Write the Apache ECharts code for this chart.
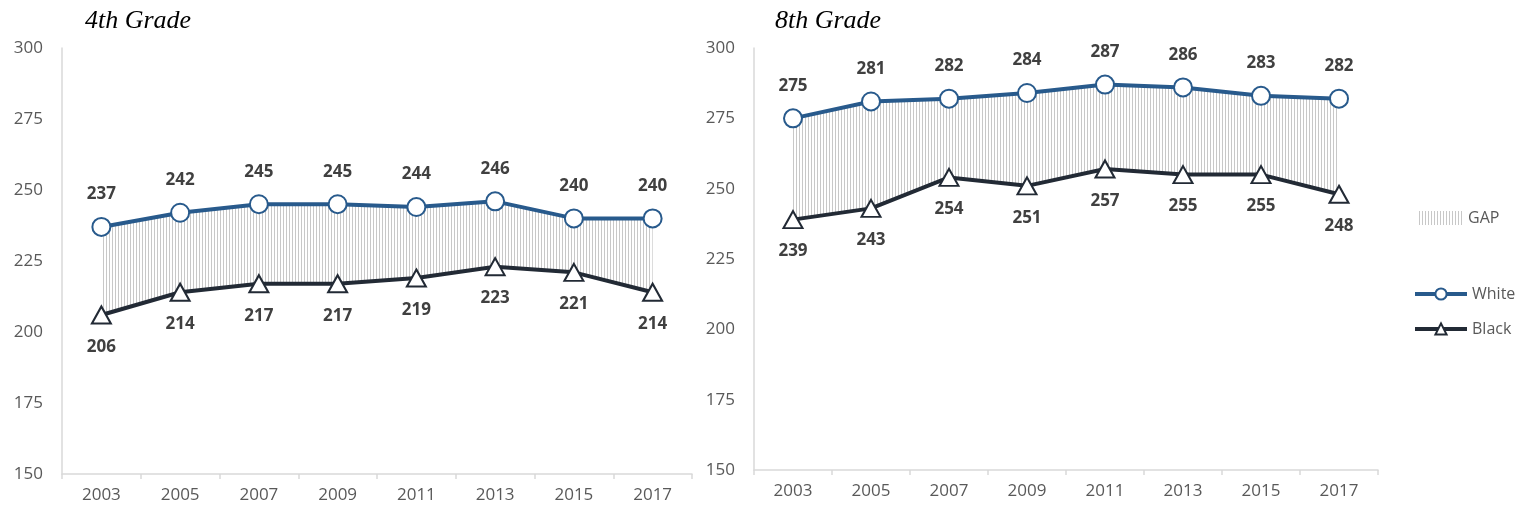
<!DOCTYPE html>
<html>
<head>
<meta charset="utf-8">
<script src="https://cdn.jsdelivr.net/npm/echarts@6/dist/echarts.min.js"></script>
<style>
  html, body { margin: 0; padding: 0; background: #fff; }
  #chart { width: 1532px; height: 512px; }
</style>
</head>
<body>
<div id="chart"></div>
<script>
// data
const years = ['2003', '2005', '2007', '2009', '2011', '2013', '2015', '2017'];
const g4White = [237, 242, 245, 245, 244, 246, 240, 240];
const g4Black = [206, 214, 217, 217, 219, 223, 221, 214];
const g8White = [275, 281, 282, 284, 287, 286, 283, 282];
const g8Black = [239, 243, 254, 251, 257, 255, 255, 248];
const yMin = 150, yMax = 300, yStep = 25;

const WHITE_COLOR = '#285a8c';
const BLACK_COLOR = '#222a35';
const AXIS_COLOR = '#d9d9d9';
const TEXT_COLOR = '#595959';

// vertical hatch pattern for the gap area
const hatchCanvas = document.createElement('canvas');
hatchCanvas.width = 3;
hatchCanvas.height = 4;
const hctx = hatchCanvas.getContext('2d');
hctx.fillStyle = '#c8c8c8';
hctx.fillRect(1, 0, 1, 4);
const hatch = { image: hatchCanvas, repeat: 'repeat' };

const myChart = echarts.init(document.getElementById('chart'));

function xAxisFor(gridIndex) {
  return {
    type: 'category',
    gridIndex: gridIndex,
    data: years,
    boundaryGap: true,
    axisLine: { lineStyle: { color: AXIS_COLOR, width: 1.5 } },
    axisTick: { show: true, length: 5, lineStyle: { color: AXIS_COLOR, width: 1.5 } },
    axisLabel: { color: TEXT_COLOR, fontFamily: 'Open Sans', fontSize: 17, margin: 13 },
    splitLine: { show: false }
  };
}

function yAxisFor(gridIndex) {
  return {
    type: 'value',
    gridIndex: gridIndex,
    min: yMin,
    max: yMax,
    interval: yStep,
    axisLine: { show: true, lineStyle: { color: AXIS_COLOR, width: 1.5 } },
    axisTick: { show: false },
    axisLabel: { color: TEXT_COLOR, fontFamily: 'Open Sans', fontSize: 17, margin: 19 },
    splitLine: { show: false }
  };
}

const labelStyle = {
  show: true,
  color: '#404040',
  fontFamily: 'Open Sans',
  fontWeight: 'bold',
  fontSize: 17,
  distance: 14
};

function seriesFor(idx, white, black) {
  const gap = white.map((v, i) => v - black[i]);
  return [
    {
      name: 'base' + idx,
      type: 'line',
      xAxisIndex: idx, yAxisIndex: idx,
      stack: 'gap' + idx,
      data: black,
      symbol: 'none',
      lineStyle: { opacity: 0 },
      silent: true,
      z: 1
    },
    {
      name: 'GAP',
      type: 'line',
      xAxisIndex: idx, yAxisIndex: idx,
      stack: 'gap' + idx,
      data: gap,
      symbol: 'none',
      lineStyle: { opacity: 0 },
      areaStyle: { color: hatch, opacity: 1 },
      silent: true,
      z: 1
    },
    {
      name: 'White',
      type: 'line',
      xAxisIndex: idx, yAxisIndex: idx,
      data: white,
      symbol: 'circle',
      symbolSize: 18,
      lineStyle: { color: WHITE_COLOR, width: 4 },
      itemStyle: { color: '#ffffff', borderColor: WHITE_COLOR, borderWidth: 2 },
      label: Object.assign({ position: 'top' }, labelStyle),
      z: 3
    },
    {
      name: 'Black',
      type: 'line',
      xAxisIndex: idx, yAxisIndex: idx,
      data: black,
      symbol: 'triangle',
      symbolSize: [19, 17],
      lineStyle: { color: BLACK_COLOR, width: 4 },
      itemStyle: { color: '#ffffff', borderColor: BLACK_COLOR, borderWidth: 2 },
      label: Object.assign({ position: 'bottom' }, labelStyle),
      z: 3
    }
  ];
}

const titleStyle = { fontFamily: 'Liberation Serif', fontStyle: 'italic', fontWeight: 'normal', fontSize: 26, color: '#000' };

const option = {
  animation: false,
  title: [
    { text: '4th Grade', left: 80, top: 3, textStyle: titleStyle },
    { text: '8th Grade', left: 770, top: 3, textStyle: titleStyle }
  ],
  legend: [
    {
      left: 1413, top: 205,
      selectedMode: false,
      itemWidth: 45, itemHeight: 14,
      data: [{ name: 'GAP', icon: 'rect', itemStyle: { color: hatch, borderWidth: 0 } }],
      textStyle: { color: TEXT_COLOR, fontFamily: 'Open Sans', fontSize: 16 }
    },
    {
      left: 1408, top: 281,
      orient: 'vertical',
      selectedMode: false,
      itemWidth: 52, itemHeight: 14, itemGap: 19,
      data: [
        { name: 'White', lineStyle: { width: 4 }, itemStyle: { borderWidth: 2 } },
        { name: 'Black', lineStyle: { width: 4 }, itemStyle: { borderWidth: 2 } }
      ],
      textStyle: { color: TEXT_COLOR, fontFamily: 'Open Sans', fontSize: 16 }
    }
  ],
  grid: [
    { left: 62, top: 48, width: 630, height: 426 },
    { left: 754, top: 48, width: 624, height: 422 }
  ],
  xAxis: [xAxisFor(0), xAxisFor(1)],
  yAxis: [yAxisFor(0), yAxisFor(1)],
  series: seriesFor(0, g4White, g4Black).concat(seriesFor(1, g8White, g8Black))
};

myChart.setOption(option);
window.addEventListener('resize', () => myChart.resize());
</script>
</body>
</html>
